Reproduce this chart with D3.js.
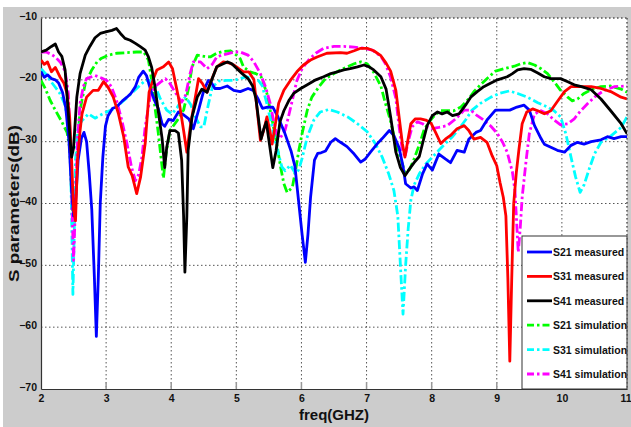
<!DOCTYPE html>
<html><head><meta charset="utf-8">
<script src="https://cdn.jsdelivr.net/npm/d3@7"></script>
<style>
html,body{margin:0;padding:0;background:#fff;}
svg{display:block;}
text{font-family:"Liberation Sans",Arial,sans-serif;font-weight:bold;fill:#111;}
</style></head><body>
<svg id="chart" width="631" height="427"></svg>
<script>
// ---------------- data ----------------
const xTicks = [2,3,4,5,6,7,8,9,10,11];
const yTicks = [-10,-20,-30,-40,-50,-60,-70];
const xLabel = "freq(GHZ)";
const yLabel = "S parameters(dB)";
const seriesNames = ["S21 measured","S31 measured","S41 measured","S21 simulation","S31 simulation","S41 simulation"];

const s21MeasFreq = [2.0,2.05,2.1,2.16,2.22,2.27,2.33,2.38,2.43,2.47,2.5,2.53,2.57,2.62,2.66,2.7,2.74,2.78,2.82,2.85,2.88,2.91,2.95,2.99,3.03,3.1,3.16,3.25,3.32,3.38,3.45,3.5,3.57,3.62,3.68,3.75,3.8,3.86,3.9,3.96,4.03,4.11,4.18,4.27,4.34,4.42,4.5,4.57,4.62,4.67,4.75,4.86,4.96,5.06,5.18,5.26,5.33,5.4,5.48,5.56,5.64,5.74,5.84,5.9,5.96,6.01,6.06,6.1,6.14,6.2,6.25,6.3,6.37,6.45,6.52,6.6,6.7,6.81,6.91,6.98,7.06,7.16,7.24,7.35,7.42,7.5,7.56,7.6,7.68,7.73,7.78,7.86,7.93,8.01,8.11,8.21,8.29,8.39,8.5,8.57,8.68,8.75,8.85,8.98,9.1,9.2,9.31,9.42,9.5,9.58,9.68,9.73,9.83,9.93,10.04,10.14,10.24,10.34,10.45,10.6,10.7,10.8,10.91,11.0];
const s21MeasDb = [-18.7,-19.6,-19.2,-19.8,-20.0,-20.5,-22.0,-24.5,-30,-38,-42,-40,-33,-29.5,-28.5,-30,-35,-41,-52,-61.5,-52,-40,-32.5,-27.5,-25.8,-24.6,-24.4,-23.4,-22.8,-22.2,-21.1,-19.6,-18.6,-19.3,-21.5,-23.5,-24.6,-27.1,-27.5,-26.4,-26.6,-25.2,-25.6,-26.3,-27.9,-24.9,-21.7,-20.1,-20.5,-21.4,-21.4,-21.0,-21.7,-21.9,-21.4,-21.7,-23.0,-24.6,-24.4,-24.4,-26.0,-28.5,-31.5,-34,-40,-45,-49.5,-45,-39,-33,-31.9,-31.8,-31.5,-30.1,-29.5,-30.1,-30.8,-32.0,-33.3,-32.8,-31.7,-30.4,-29.5,-28.2,-29,-31.0,-34,-36.8,-37.5,-37.3,-37.9,-35.2,-33.6,-34.6,-32.0,-32.8,-33.4,-31.4,-31.7,-29.6,-28.5,-28.2,-26.5,-24.9,-24.9,-24.9,-24.4,-24.1,-24.9,-27.4,-29.5,-30.4,-30.9,-31.4,-31.7,-30.6,-30.1,-30.4,-30.0,-29.7,-29.2,-29.5,-29.2,-29.2];

const s31MeasFreq = [2.0,2.05,2.1,2.16,2.22,2.29,2.35,2.4,2.44,2.47,2.5,2.53,2.56,2.6,2.63,2.7,2.8,2.88,2.96,3.03,3.11,3.19,3.27,3.34,3.4,3.47,3.53,3.6,3.66,3.72,3.78,3.88,3.96,4.02,4.11,4.19,4.24,4.3,4.37,4.42,4.48,4.55,4.62,4.7,4.8,4.9,4.96,5.04,5.11,5.19,5.27,5.32,5.37,5.42,5.47,5.52,5.55,5.6,5.65,5.73,5.83,5.93,6.03,6.14,6.24,6.39,6.6,6.7,6.81,6.91,7.01,7.11,7.22,7.3,7.37,7.45,7.5,7.55,7.59,7.63,7.68,7.75,7.83,7.91,7.99,8.06,8.14,8.21,8.29,8.39,8.5,8.57,8.65,8.75,8.85,8.93,9.0,9.05,9.1,9.14,9.17,9.2,9.23,9.26,9.3,9.34,9.39,9.46,9.55,9.63,9.73,9.83,9.93,10.04,10.14,10.3,10.45,10.6,10.75,10.91,11.0];
const s31MeasDb = [-16.8,-17.5,-17.1,-18.7,-18.0,-19.5,-20.5,-22.2,-26,-33,-41,-42.8,-33,-28.2,-25.5,-22.8,-21.7,-21.7,-20.3,-21.2,-22.8,-25.5,-29.2,-34.1,-35.5,-38.4,-35.7,-30.3,-22,-20.0,-18.4,-17.9,-17.1,-18.2,-22.8,-28.2,-31.7,-27,-22.8,-19.8,-20.6,-22.0,-20.0,-17.9,-17.1,-17.3,-17.6,-18.2,-18.7,-18.7,-20.0,-24.9,-29.8,-28.2,-26.0,-28.5,-30.4,-27.1,-23.8,-21.7,-20.1,-18.7,-17.6,-16.8,-16.3,-15.7,-15.6,-15.7,-15.3,-14.9,-14.9,-15.3,-16.1,-17.3,-18.6,-21.7,-26.0,-30.3,-32.5,-30,-27.1,-26.3,-26.3,-26.5,-27.0,-28.5,-30.3,-29.6,-29.0,-27.9,-27.4,-28.2,-29.6,-29.3,-30.1,-32.3,-33.9,-36.6,-39,-42,-52,-65.5,-52,-40,-35,-31.3,-27.1,-25.2,-24.7,-25.0,-25.5,-25.0,-23.5,-21.9,-21.1,-21.1,-21.1,-21.4,-21.9,-22.8,-23.1];

const s41MeasFreq = [2.0,2.08,2.16,2.22,2.27,2.32,2.37,2.42,2.45,2.47,2.5,2.55,2.6,2.68,2.75,2.83,2.91,3.01,3.09,3.16,3.22,3.29,3.37,3.45,3.52,3.6,3.65,3.7,3.75,3.8,3.86,3.9,3.93,3.98,4.06,4.11,4.16,4.19,4.21,4.24,4.26,4.32,4.4,4.47,4.55,4.63,4.7,4.8,4.86,4.93,5.01,5.09,5.18,5.25,5.3,5.34,5.38,5.42,5.46,5.51,5.56,5.61,5.67,5.73,5.81,5.88,5.99,6.09,6.22,6.34,6.45,6.55,6.65,6.75,6.86,6.96,7.04,7.11,7.22,7.3,7.37,7.45,7.52,7.59,7.66,7.73,7.81,7.86,7.93,8.01,8.09,8.16,8.24,8.32,8.42,8.52,8.6,8.7,8.8,8.91,9.01,9.16,9.24,9.32,9.42,9.52,9.63,9.73,9.83,9.98,10.09,10.19,10.3,10.45,10.6,10.75,10.91,11.0];
const s41MeasDb = [-15.5,-15.2,-14.6,-14.2,-15.5,-16.2,-18.4,-25.4,-30,-32.5,-31,-22.8,-19.0,-16,-14.6,-13.2,-12.5,-12.2,-12.0,-11.7,-12.5,-13.3,-13.6,-14.1,-14.6,-15.2,-16.3,-18.0,-21.1,-25,-29.5,-34.2,-31,-28.2,-28.2,-28.6,-33,-42,-51.1,-42,-31.4,-26.0,-22.8,-21.5,-22.0,-19.8,-17.9,-17.4,-17.1,-17.4,-18.2,-19.0,-19.8,-21,-23,-26.3,-29.6,-28,-26.8,-30.5,-34.2,-31.5,-26.8,-25.0,-23.3,-22.2,-21.4,-20.8,-20.0,-19.5,-19.0,-18.7,-18.4,-18.2,-17.9,-17.6,-17.9,-18.4,-19.5,-21.5,-26.0,-31.7,-34.2,-35.5,-34.4,-33.4,-32.4,-30.3,-27.4,-25.8,-25.2,-25.5,-25.2,-25.8,-25.5,-24.1,-22.8,-21.9,-21.1,-20.5,-20.0,-19.5,-19.0,-18.4,-18.2,-18.3,-18.9,-19.5,-19.8,-19.8,-20.3,-20.8,-21.1,-21.6,-23.1,-25.0,-27.1,-28.7];

const s21SimFreq = [2.0,2.07,2.14,2.22,2.32,2.4,2.44,2.47,2.5,2.53,2.57,2.6,2.68,2.78,2.86,2.93,3.04,3.16,3.32,3.47,3.58,3.65,3.7,3.75,3.8,3.86,3.88,3.92,3.98,4.09,4.19,4.27,4.32,4.4,4.5,4.6,4.7,4.8,4.91,5.0,5.06,5.11,5.21,5.3,5.38,5.47,5.55,5.62,5.68,5.73,5.78,5.86,5.91,5.96,6.01,6.09,6.16,6.27,6.37,6.5,6.6,6.7,6.81,6.91,7.01,7.11,7.22,7.29,7.37,7.45,7.52,7.59,7.66,7.73,7.81,7.88,7.96,8.04,8.14,8.24,8.34,8.45,8.55,8.65,8.75,8.86,8.98,9.11,9.27,9.37,9.47,9.58,9.68,9.78,9.88,9.98,10.09,10.16,10.24,10.34,10.45,10.6,10.75,10.91,11.0];
const s21SimDb = [-20.1,-21.5,-23.3,-24.9,-26.8,-28.5,-31,-38,-43,-38,-29,-24.9,-20.6,-18.4,-17.1,-16.5,-16.0,-15.7,-15.6,-15.5,-15.5,-16.8,-20.1,-24.4,-28.5,-34.1,-35.9,-32,-28.2,-26.6,-24.9,-21.2,-17.9,-16.0,-16.2,-16.3,-15.7,-15.4,-15.3,-16.0,-16.6,-17.9,-18.7,-19.0,-19.5,-22.2,-26.5,-30.3,-34.1,-36.8,-38.2,-37.4,-34.6,-31.4,-28.7,-24.9,-22.8,-21.1,-19.8,-19.0,-18.4,-17.9,-17.4,-17.1,-17.4,-18.8,-21.0,-23.8,-26.7,-30.4,-32.6,-35.0,-34.5,-32.8,-30.5,-28.2,-26.8,-25.8,-25.0,-25.0,-25.0,-24.4,-23.3,-21.9,-20.8,-19.7,-18.6,-18.2,-17.8,-17.4,-17.2,-17.6,-18.2,-19.0,-20.3,-21.7,-22.8,-23.4,-23.1,-22.2,-21.6,-21.1,-21.0,-21.5,-22.0];

const s31SimFreq = [2.0,2.07,2.14,2.22,2.29,2.36,2.42,2.45,2.47,2.49,2.51,2.53,2.57,2.63,2.73,2.83,2.93,3.01,3.11,3.22,3.32,3.42,3.52,3.6,3.68,3.75,3.83,3.93,4.01,4.09,4.14,4.22,4.3,4.37,4.45,4.5,4.57,4.63,4.73,4.86,4.96,5.06,5.16,5.26,5.34,5.4,5.47,5.55,5.62,5.7,5.75,5.83,5.91,5.96,6.01,6.09,6.19,6.29,6.42,6.55,6.71,6.86,7.01,7.14,7.24,7.34,7.42,7.48,7.52,7.56,7.6,7.64,7.68,7.73,7.81,7.91,8.01,8.11,8.21,8.32,8.42,8.52,8.62,8.75,8.91,9.04,9.19,9.32,9.47,9.63,9.78,9.88,9.98,10.06,10.14,10.21,10.28,10.34,10.42,10.5,10.6,10.75,10.91,11.0];
const s31SimDb = [-18.2,-19.0,-20.1,-21.2,-22.2,-23.8,-26.5,-31,-42,-54.7,-45,-33,-27.5,-26.6,-25.5,-26.2,-25.6,-25.2,-24.7,-23.8,-22.9,-21.9,-20.9,-20.1,-20.1,-21.0,-23.0,-24.9,-25.5,-24.5,-23.6,-22.8,-24,-26,-27.6,-27.6,-24,-21.2,-20.2,-20.1,-20.1,-19.8,-19.5,-19.8,-20.1,-21,-23.9,-27.6,-30.9,-34.1,-34.7,-33.8,-35.2,-34.5,-32.7,-29.2,-26.5,-25.2,-24.8,-25.2,-26.0,-27.1,-28.4,-30.4,-32.5,-35.2,-37.9,-42,-50,-57.9,-50,-44,-39.5,-37,-35.2,-33.6,-32.5,-31.4,-30.3,-29.2,-27.9,-26.5,-24.9,-23.8,-22.8,-22.2,-21.8,-22.2,-22.8,-23.7,-24.4,-25.0,-26.0,-28.7,-32.5,-35.7,-38.2,-37,-34.4,-32,-30.1,-29.1,-27.7,-26.0];

const s41SimFreq = [2.0,2.08,2.16,2.22,2.3,2.37,2.42,2.45,2.48,2.5,2.53,2.56,2.6,2.65,2.7,2.83,2.93,3.01,3.08,3.16,3.24,3.32,3.39,3.45,3.5,3.55,3.6,3.68,3.75,3.83,3.91,3.98,4.09,4.16,4.22,4.29,4.34,4.45,4.55,4.63,4.7,4.78,4.86,4.96,5.06,5.18,5.27,5.37,5.45,5.52,5.57,5.62,5.67,5.75,5.8,5.86,5.93,6.01,6.11,6.22,6.34,6.5,6.65,6.81,6.96,7.09,7.22,7.29,7.37,7.45,7.5,7.55,7.59,7.64,7.7,7.78,7.86,7.93,8.01,8.11,8.24,8.37,8.5,8.6,8.7,8.8,8.91,9.01,9.09,9.16,9.24,9.28,9.31,9.33,9.36,9.39,9.45,9.5,9.58,9.68,9.78,9.88,9.98,10.09,10.19,10.29,10.4,10.5,10.65,10.81,11.0];
const s41SimDb = [-15.5,-15.5,-15.9,-16.3,-17.2,-18.6,-22.2,-30,-42,-49.2,-40,-30,-23.8,-21.1,-19.8,-19.3,-19.7,-20.1,-21.1,-23.3,-26.5,-30.3,-34.1,-36.3,-35.3,-32.5,-27.6,-22.5,-21.1,-20.4,-19.8,-20.6,-22.5,-23.6,-22.5,-19.0,-17.1,-17.1,-18.2,-17.5,-16.3,-16.0,-15.8,-15.5,-15.5,-16.0,-17.1,-19,-21.2,-23.8,-26.5,-28.7,-29.5,-28.1,-26.0,-23.3,-20.1,-18.2,-16.8,-15.7,-14.9,-14.6,-14.6,-14.7,-14.9,-15.2,-16.2,-17.4,-19.6,-23.0,-27.6,-31.4,-32.5,-30,-27.6,-26.8,-27.1,-27.6,-27.9,-27.7,-27.4,-26.3,-24.9,-24.9,-25.8,-26.5,-27.5,-28.7,-30.1,-31.7,-34.9,-38,-44,-47.9,-44,-39,-33.1,-28.7,-25.5,-25.0,-25.5,-26.5,-27.3,-27.1,-26.3,-25.0,-23.8,-22.8,-21.7,-21.1,-21.0];

// ---------------- drawing ----------------
const W = 631, H = 427;
const plot = {left: 41, right: 627, top: 18, bottom: 389};
const svg = d3.select("#chart");

svg.append("rect").attr("x",3).attr("y",7).attr("width",W-3).attr("height",H-7).attr("fill","#cccccc");
svg.append("rect").attr("x",plot.left).attr("y",plot.top)
  .attr("width",plot.right-plot.left).attr("height",plot.bottom-plot.top).attr("fill","#fff");

const x = d3.scaleLinear().domain([2,11]).range([plot.left, plot.right]);
const y = d3.scaleLinear().domain([-70,-10]).range([plot.bottom, plot.top]);

// grid
const grid = svg.append("g").attr("stroke","#555").attr("stroke-width",1).attr("stroke-dasharray","1.5,2.5");
grid.selectAll("line.v").data(xTicks.slice(1)).join("line")
  .attr("x1",d=>x(d)).attr("x2",d=>x(d)).attr("y1",plot.top).attr("y2",plot.bottom);
grid.selectAll("line.h").data(yTicks.slice(0,-1)).join("line")
  .attr("y1",d=>y(d)).attr("y2",d=>y(d)).attr("x1",plot.left).attr("x2",plot.right);

// axes
const xAxis = d3.axisBottom(x).tickValues(xTicks).tickSize(0).tickPadding(6).tickFormat(d3.format("d"));
const yAxis = d3.axisLeft(y).tickValues(yTicks).tickSize(0).tickPadding(4).tickFormat(d3.format("d"));
const gx = svg.append("g").attr("transform",`translate(0,${plot.bottom})`).call(xAxis);
const gy = svg.append("g").attr("transform",`translate(${plot.left},0)`).call(yAxis);
[gx,gy].forEach(g=>{
  g.select(".domain").attr("stroke","#333").attr("stroke-width",1.2);
  g.selectAll("text").attr("font-size",10.5).attr("font-family",null).attr("fill","#111");
});
gy.selectAll("text").attr("dy","0.1em");
// keep the last x label inside the picture
gx.selectAll(".tick").filter(d=>d===11).select("text").attr("text-anchor","end").attr("dx",4);
// inward ticks
svg.append("g").selectAll("line").data(xTicks.slice(1,-1)).join("line")
  .attr("x1",d=>x(d)).attr("x2",d=>x(d)).attr("y1",plot.bottom).attr("y2",plot.bottom-7)
  .attr("stroke","#999").attr("stroke-width",1.5);

// series
const lineGen = d3.line().x(d=>x(d[0])).y(d=>y(d[1]));
const series = [
  {name:seriesNames[0], f:s21MeasFreq, v:s21MeasDb, color:"#0000ff", dash:null},
  {name:seriesNames[1], f:s31MeasFreq, v:s31MeasDb, color:"#ff0000", dash:null},
  {name:seriesNames[2], f:s41MeasFreq, v:s41MeasDb, color:"#000000", dash:null},
  {name:seriesNames[3], f:s21SimFreq, v:s21SimDb, color:"#00ff00", dash:"9,3,2.5,3"},
  {name:seriesNames[4], f:s31SimFreq, v:s31SimDb, color:"#00ffff", dash:"9,3,2.5,3"},
  {name:seriesNames[5], f:s41SimFreq, v:s41SimDb, color:"#ff00ff", dash:"9,3,2.5,3"}
];
svg.append("clipPath").attr("id","clip").append("rect")
  .attr("x",plot.left).attr("y",plot.top).attr("width",plot.right-plot.left).attr("height",plot.bottom-plot.top);
const gl = svg.append("g").attr("clip-path","url(#clip)");
const order = [3,4,5,0,1,2];
order.forEach(i=>{
  const s = series[i];
  gl.append("path").datum(s.f.map((f,k)=>[f,s.v[k]]))
    .attr("d",lineGen).attr("fill","none").attr("stroke",s.color)
    .attr("stroke-width",2.8).attr("stroke-linejoin","round")
    .attr("stroke-dasharray",s.dash);
});

// labels
svg.append("text").attr("x",(plot.left+plot.right)/2).attr("y",420).attr("text-anchor","middle")
  .attr("font-size",15).text(xLabel);
svg.append("text").attr("transform",`translate(19,${(plot.top+plot.bottom)/2}) rotate(-90) scale(1.3,1)`)
  .attr("text-anchor","middle").attr("font-size",14.5).text(yLabel);

// legend
const lg = svg.append("g");
const lgBox = {x:522, y:236, w:plot.right-522, h:plot.bottom-236};
lg.append("rect").attr("x",lgBox.x).attr("y",lgBox.y).attr("width",lgBox.w).attr("height",lgBox.h)
  .attr("fill","#fff").attr("stroke","#333").attr("stroke-width",1);
const ly = d3.scalePoint().domain(seriesNames).range([252,374]);
series.forEach(s=>{
  const yy = ly(s.name);
  lg.append("line").attr("x1",527).attr("x2",552).attr("y1",yy).attr("y2",yy)
    .attr("stroke",s.color).attr("stroke-width",2.8).attr("stroke-dasharray",s.dash?"7,3,2.5,3":null);
  lg.append("text").attr("x",553).attr("y",yy+4).attr("font-size",10.5).text(s.name);
});
// dotted top and right borders
svg.append("line").attr("x1",plot.right).attr("x2",plot.right).attr("y1",plot.top).attr("y2",plot.bottom)
  .attr("stroke","#555").attr("stroke-dasharray","1.5,2.5");
svg.append("line").attr("x1",plot.left).attr("x2",plot.right).attr("y1",plot.top).attr("y2",plot.top)
  .attr("stroke","#555").attr("stroke-dasharray","1.5,2.5");
</script>
</body></html>
